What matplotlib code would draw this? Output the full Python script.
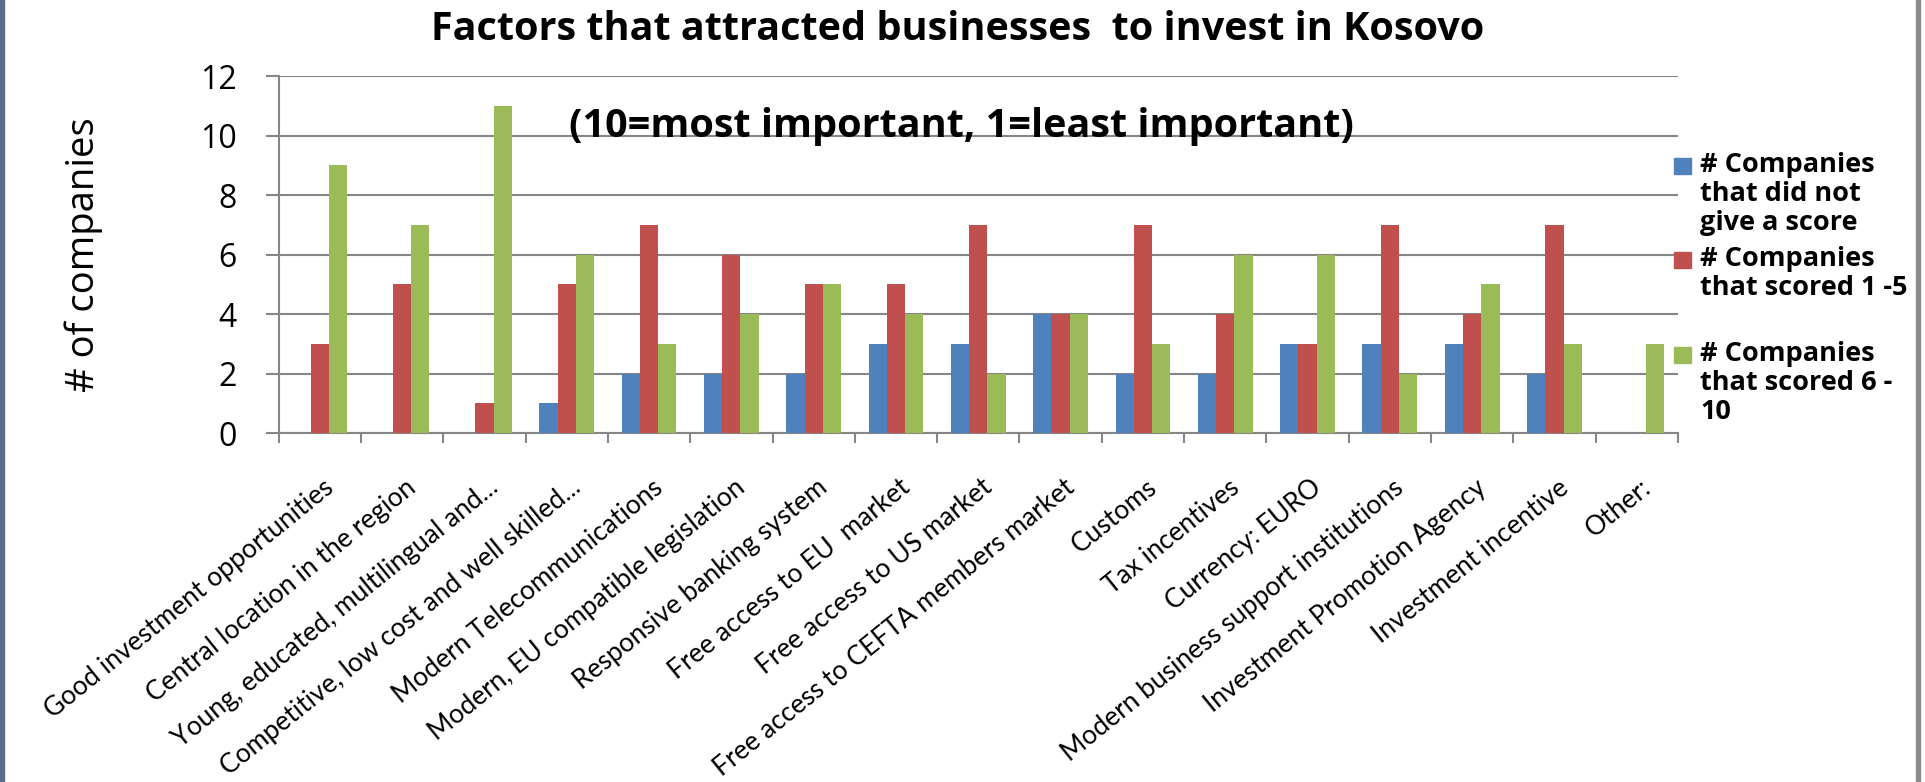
import matplotlib
matplotlib.use("Agg")
import matplotlib.pyplot as plt
import matplotlib.transforms as mtransforms
from matplotlib.patches import Rectangle
import numpy as np

plt.rcParams["font.family"] = ["Open Sans", "DejaVu Sans"]

factors = [
    "Good investment opportunities",
    "Central location in the region",
    "Young, educated, multilingual and...",
    "Competitive, low cost and well skilled...",
    "Modern Telecommunications",
    "Modern, EU compatible legislation",
    "Responsive banking system",
    "Free access to EU  market",
    "Free access to US market",
    "Free access to CEFTA members market",
    "Customs",
    "Tax incentives",
    "Currency: EURO",
    "Modern business support institutions",
    "Investment Promotion Agency",
    "Investment incentive",
    "Other:",
]
no_score = [0, 0, 0, 1, 2, 2, 2, 3, 3, 4, 2, 2, 3, 3, 3, 2, 0]
scored_1_5 = [3, 5, 1, 5, 7, 6, 5, 5, 7, 4, 7, 4, 3, 7, 4, 7, 0]
scored_6_10 = [9, 7, 11, 6, 3, 4, 5, 4, 2, 4, 3, 6, 6, 2, 5, 3, 3]

series_labels = [
    "# Companies\nthat did not\ngive a score",
    "# Companies\nthat scored 1 -5",
    "# Companies\nthat scored 6 -\n10",
]
colors = ["#4F81BD", "#C0504D", "#9BBB59"]
grid_color = "#868686"

W, H = 1925, 782
fig = plt.figure(figsize=(W / 100, H / 100), dpi=100)
ax = fig.add_axes([278.6 / W, 1 - 433 / H, (1678 - 278.6) / W, (433 - 76) / H])

x = np.arange(len(factors))
width = 0.222
for i, (vals, col) in enumerate(zip([no_score, scored_1_5, scored_6_10], colors)):
    ax.bar(x + (i - 1) * width, vals, width=width, color=col, zorder=3)

ax.set_xlim(-0.5, len(factors) - 0.5)
ax.set_ylim(0, 12)
ax.set_yticks(range(0, 13, 2))
ax.yaxis.grid(True, color=grid_color, linewidth=1.5, zorder=0)

# tick marks on category boundaries, labels centred on the categories
ax.set_xticks(np.arange(-0.5, len(factors), 1.0))
ax.set_xticklabels([])
ax.set_xticks(x, minor=True)
ax.set_xticklabels(factors, minor=True, rotation=39, ha="right", va="top",
                   rotation_mode="anchor", fontsize=19, family=["Lato", "DejaVu Sans"])
ax.tick_params(axis="x", which="major", direction="out", length=7.2,
               width=1.5, color=grid_color)
ax.tick_params(axis="x", which="minor", length=0, pad=30)
offset = mtransforms.ScaledTranslation(3 / 100, 0, fig.dpi_scale_trans)
for lbl in ax.get_xticklabels(minor=True):
    lbl.set_transform(lbl.get_transform() + offset)

ax.tick_params(axis="y", direction="out", length=9.4, width=1.5,
               color=grid_color, labelsize=23, pad=21)

for side in ["top", "right"]:
    ax.spines[side].set_visible(False)
for side in ["left", "bottom"]:
    ax.spines[side].set_color(grid_color)
    ax.spines[side].set_linewidth(1.5)

ax.set_ylabel("# of companies", fontsize=27.5, va="center")
ax.yaxis.set_label_coords(84 / W, 1 - 255 / H, transform=fig.transFigure)

fig.text(958 / W, 1 - 29 / H, "Factors that attracted businesses  to invest in Kosovo",
         ha="center", va="center", fontsize=28.5, fontweight="bold")
ax.text(961 / W, 1 - 127 / H, "(10=most important, 1=least important)",
        transform=fig.transFigure, ha="center", va="center",
        fontsize=28.5, fontweight="bold", zorder=5)

# legend
marker_y = [166, 260, 355]
for lab, col, my in zip(series_labels, colors, marker_y):
    fig.patches.append(Rectangle((1674 / W, 1 - (my + 8) / H), 17 / W, 16 / H,
                                 transform=fig.transFigure, color=col))
    fig.text(1700 / W, 1 - (my - 14) / H, lab, ha="left", va="top",
             fontsize=19.5, fontweight="bold", linespacing=1.15)

# frame edges
fig.patches.append(Rectangle((0, 0), 4 / W, 1, transform=fig.transFigure,
                             color="#5b6d8f"))
fig.patches.append(Rectangle((1916 / W, 0), 4 / W, 1, transform=fig.transFigure,
                             color="#8a8a8a"))

fig.savefig("out.png", dpi=100)
